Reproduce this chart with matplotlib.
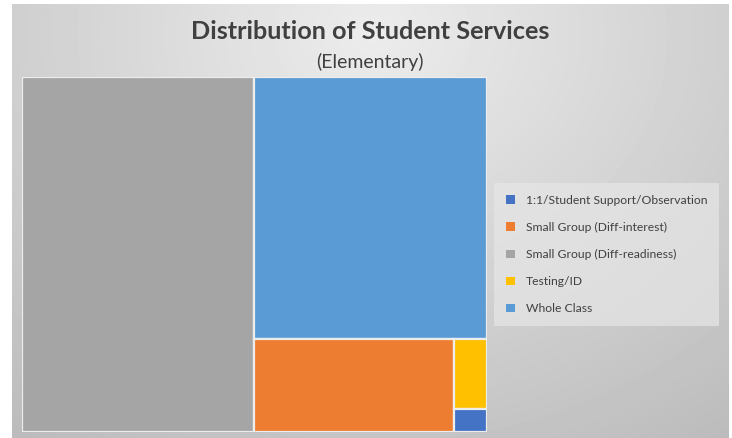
import numpy as np
import matplotlib.pyplot as plt
from matplotlib.patches import Rectangle, Patch

plt.rcParams['font.family'] = ['Lato', 'DejaVu Sans']

categories = ['1:1/Student Support/Observation', 'Small Group (Diff-interest)',
              'Small Group (Diff-readiness)', 'Testing/ID', 'Whole Class']
counts = [2, 48, 213, 6, 158]
colors = ['#4472C4', '#ED7D31', '#A5A5A5', '#FFC000', '#5B9BD5']


def worst_ratio(row, side):
    s = sum(row)
    w = s / side
    return max(max(w / (a / w), (a / w) / w) for a in row)


def squarify(areas, x, y, w, h):
    # squarified treemap, rows laid along the shorter side
    rects = []
    areas = list(areas)
    while areas:
        side = min(w, h)
        row = [areas.pop(0)]
        while areas and worst_ratio(row + [areas[0]], side) <= worst_ratio(row, side):
            row.append(areas.pop(0))
        s = sum(row)
        thick = s / side
        if w >= h:
            yy = y + h
            for a in row:
                hh = a / thick
                yy -= hh
                rects.append((x, yy, thick, hh))
            x += thick
            w -= thick
        else:
            xx = x
            for a in row:
                ww = a / thick
                rects.append((xx, y + h - thick, ww, thick))
                xx += ww
            h -= thick
    return rects


W, H = 465.0, 355.0
order = np.argsort(counts)[::-1]
total = sum(counts)
areas = [counts[i] / total * W * H for i in order]
rects = squarify(areas, 0, 0, W, H)

fig = plt.figure(figsize=(7.32, 4.38), dpi=100)

# gray radial backdrop of the chart area
bg = fig.add_axes([12 / 732, 0, 717 / 732, 434 / 438])
yy, xx = np.mgrid[0:434, 0:717]
d = np.sqrt(((xx - 360) / 520.0) ** 2 + ((yy - 30) / 430.0) ** 2)
shade = np.clip(236 - 42 * d, 188, 240) / 255.0
bg.imshow(shade, cmap='gray', vmin=0, vmax=1, aspect='auto', interpolation='bilinear')
bg.axis('off')

ax = fig.add_axes([22 / 732, 6 / 438, W / 732, H / 438])
for (rx, ry, rw, rh), i in zip(rects, order):
    ax.add_patch(Rectangle((rx, ry), rw, rh, facecolor=colors[i],
                           edgecolor='#EDEDED', linewidth=1.6))
ax.set_xlim(0, W)
ax.set_ylim(0, H)
ax.axis('off')

fig.text(370 / 732, 1 - 31.5 / 438, 'Distribution of Student Services',
         ha='center', va='center', fontsize=18.2, fontweight='bold', color='#404040')
fig.text(370 / 732, 1 - 62 / 438, '(Elementary)',
         ha='center', va='center', fontsize=14, color='#404040')

handles = [Patch(facecolor=c, edgecolor='none') for c in colors]
leg = fig.legend(handles, categories, loc='center left',
                 bbox_to_anchor=(494 / 732, 1 - 254.5 / 438),
                 fontsize=8.7, frameon=True, fancybox=False,
                 handlelength=0.72, handleheight=0.72, handletextpad=0.9,
                 labelspacing=1.33, borderpad=1.0, borderaxespad=0)
frame = leg.get_frame()
frame.set_facecolor('#E6E6E6')
frame.set_alpha(0.7)
frame.set_edgecolor('none')
for t in leg.get_texts():
    t.set_color('#404040')

fig.savefig('out.png', dpi=100, facecolor='white')
